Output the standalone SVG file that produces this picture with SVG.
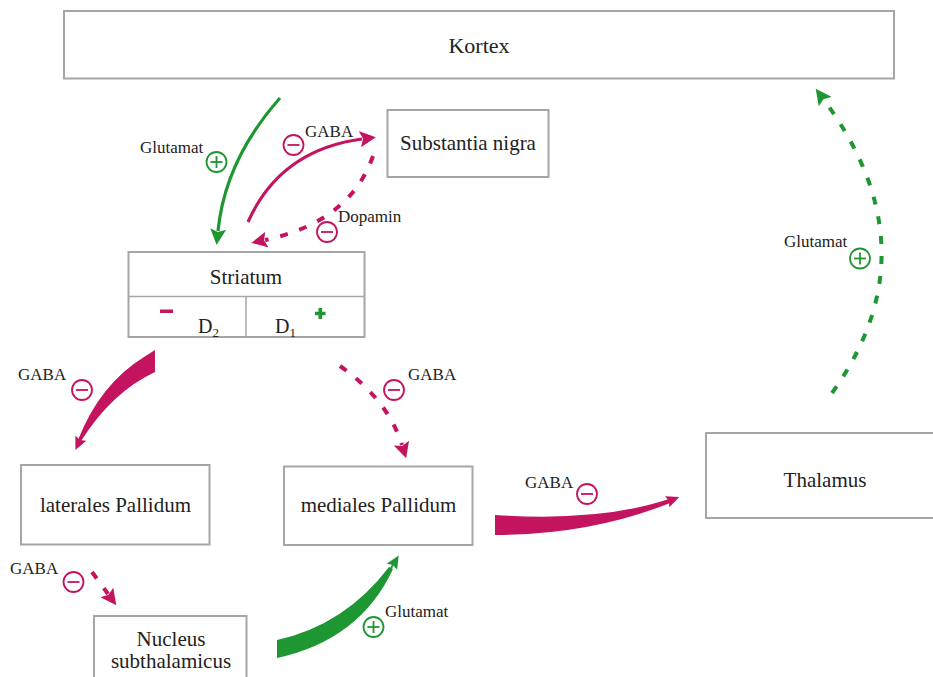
<svg xmlns="http://www.w3.org/2000/svg" width="933" height="677" viewBox="0 0 933 677">
<defs>
<style>
.box{fill:#fff;stroke:#a6a6a6;stroke-width:2}
.lbl{font-family:"Liberation Serif","Times New Roman",serif;font-size:21px;fill:#222;text-anchor:middle}
.t{font-family:"Liberation Serif","Times New Roman",serif;font-size:17px;fill:#222}
.mg{stroke:#c4145f;fill:none}
.gr{stroke:#1e9632;fill:none}
.dash{stroke-width:4;stroke-dasharray:8 12}
.sym{fill:#fff;stroke-width:1.8}
</style>
<marker id="am" markerUnits="userSpaceOnUse" markerWidth="18" markerHeight="16" refX="2" refY="8" orient="auto"><path d="M0,0 L16,8 L0,16 L3,8 z" fill="#c4145f"/></marker>
<marker id="ag" markerUnits="userSpaceOnUse" markerWidth="18" markerHeight="16" refX="2" refY="8" orient="auto"><path d="M0,0 L16,8 L0,16 L3,8 z" fill="#1e9632"/></marker>
<marker id="amS" markerUnits="userSpaceOnUse" markerWidth="14" markerHeight="12" refX="2" refY="6" orient="auto"><path d="M0,0 L13,6 L0,12 L2,6 z" fill="#c4145f"/></marker>
<marker id="agS" markerUnits="userSpaceOnUse" markerWidth="14" markerHeight="12" refX="2" refY="6" orient="auto"><path d="M0,0 L13,6 L0,12 L2,6 z" fill="#1e9632"/></marker>
<g id="minus"><circle r="10" class="sym" stroke="#c4145f"/><line x1="-6" y1="0" x2="6" y2="0" stroke="#c4145f" stroke-width="1.8"/></g>
<g id="plus"><circle r="10" class="sym" stroke="#1e9632"/><line x1="-6" y1="0" x2="6" y2="0" stroke="#1e9632" stroke-width="1.8"/><line x1="0" y1="-6" x2="0" y2="6" stroke="#1e9632" stroke-width="1.8"/></g>
</defs>
<rect width="933" height="677" fill="#fff"/>

<g id="kortex"><rect class="box" x="64" y="11" width="830" height="67.5"/><text class="lbl" x="479" y="53" style="font-size:22px">Kortex</text></g>
<g id="substantia-nigra"><rect class="box" x="387.5" y="110" width="161" height="67"/><text class="lbl" x="468" y="150">Substantia nigra</text></g>
<g id="striatum"><rect class="box" x="128.5" y="252" width="236" height="85"/>
<line x1="128.5" y1="296.5" x2="364.5" y2="296.5" stroke="#a6a6a6" stroke-width="1.5"/>
<line x1="246" y1="296.5" x2="246" y2="337" stroke="#a6a6a6" stroke-width="1.5"/>
<text class="lbl" x="246" y="284">Striatum</text>
<rect x="160" y="309.5" width="13" height="3.5" fill="#c4145f"/>
<text class="t" x="198" y="333" style="font-size:20px">D<tspan font-size="13" dy="4">2</tspan></text>
<text class="t" x="275" y="333" style="font-size:20px">D<tspan font-size="13" dy="4">1</tspan></text>
<path d="M315,313.5 H325.5 M320.3,308 V319" stroke="#1e9632" stroke-width="3.6" fill="none"/>
</g>
<g id="laterales-pallidum"><rect class="box" x="21" y="465" width="188.5" height="79.5"/><text class="lbl" x="115.5" y="512">laterales Pallidum</text></g>
<g id="mediales-pallidum"><rect class="box" x="284" y="466.5" width="188.5" height="78.5"/><text class="lbl" x="378.5" y="512">mediales Pallidum</text></g>
<g id="thalamus"><rect class="box" x="706" y="433" width="240" height="85"/><text class="lbl" x="825" y="487">Thalamus</text></g>
<g id="nucleus-subthalamicus"><rect class="box" x="94" y="616" width="152.5" height="70"/><text class="lbl" x="171" y="646">Nucleus</text><text class="lbl" x="171" y="668">subthalamicus</text></g>

<g id="connectors">
<path class="gr" stroke-width="3.2" d="M280,98 Q225,160 218,231" marker-end="url(#ag)"/>
<path class="mg" stroke-width="3.2" d="M248,222 Q280,150 362,139" marker-end="url(#am)"/>
<path class="mg dash" d="M373,156 Q350,222 265,240" marker-end="url(#am)"/>
<path fill="#c4145f" d="M144,357 L155,350 L155,372 Q112,392 81,441 L78,440 Q100,384 144,357 z"/>
<path class="mg" stroke-width="1.8" d="M150,362 Q105,385 80,440" marker-end="url(#amS)"/>
<path class="mg dash" d="M340,366 Q388,400 402,445" marker-end="url(#am)"/>
<path class="mg dash" d="M92,572 L108,594" marker-end="url(#am)"/>
<path fill="#1e9632" d="M277,640 Q345,625 389,567 L393,569 Q360,640 277,658 z"/>
<path class="gr" stroke-width="1.8" d="M277,649 Q352,633 393,565" marker-end="url(#agS)"/>
<path fill="#c4145f" d="M495,515 Q600,522 669,499 L670,503 Q590,535 495,535 z"/>
<path class="mg" stroke-width="1.8" d="M495,525 Q600,528 669,501" marker-end="url(#amS)"/>
<path class="gr dash" d="M832,393 Q935,250 824,100" marker-end="url(#ag)"/>
</g>

<g id="labels">
<text class="t" x="140" y="153">Glutamat</text><use href="#plus" x="216.5" y="162"/>
<text class="t" x="305" y="137">GABA</text><use href="#minus" x="293.5" y="145"/>
<text class="t" x="338" y="222">Dopamin</text><use href="#minus" x="327" y="232"/>
<text class="t" x="18" y="380">GABA</text><use href="#minus" x="82" y="390"/>
<text class="t" x="408" y="380">GABA</text><use href="#minus" x="394" y="390"/>
<text class="t" x="10" y="574">GABA</text><use href="#minus" x="73.5" y="582"/>
<text class="t" x="385" y="617">Glutamat</text><use href="#plus" x="373.5" y="627"/>
<text class="t" x="525" y="488">GABA</text><use href="#minus" x="587" y="494"/>
<text class="t" x="784" y="247">Glutamat</text><use href="#plus" x="860" y="258.5"/>
</g>
</svg>
